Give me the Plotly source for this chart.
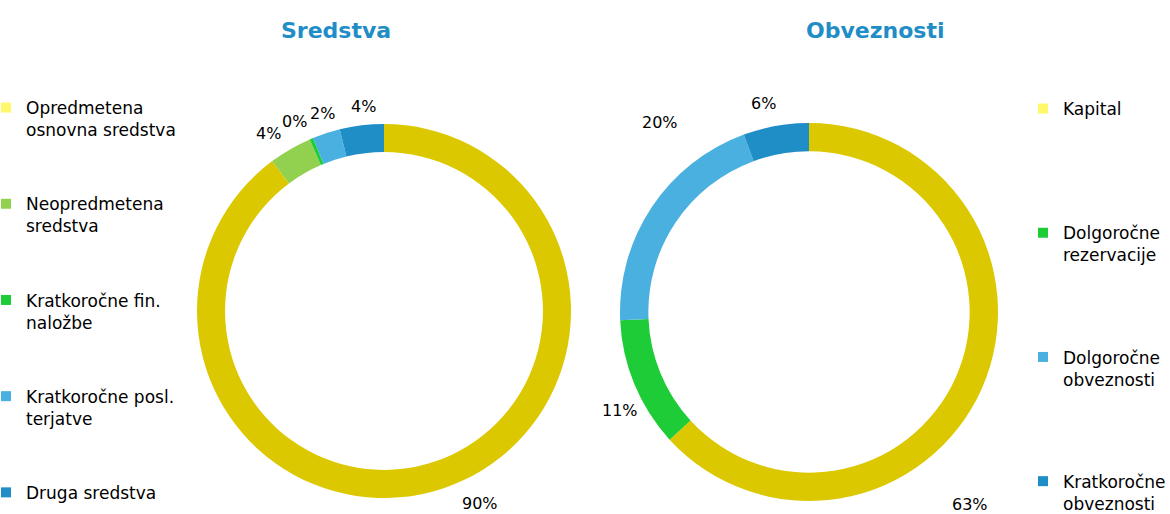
import plotly.graph_objects as go

# ---- data ----
assets_labels = ["Opredmetena<br>osnovna sredstva", "Neopredmetena<br>sredstva",
                 "Kratkoročne fin.<br>naložbe", "Kratkoročne posl.<br>terjatve", "Druga sredstva"]
assets_values = [89.8, 3.7, 0.3, 2.4, 3.8]
assets_colors = ["#DCC800", "#92D050", "#1ECC38", "#4AB0E0", "#1F8DC6"]
assets_legend_colors = ["#FFF86A", "#92D050", "#1ECC38", "#4AB0E0", "#1F8DC6"]

liab_labels = ["Kapital", "Dolgoročne<br>rezervacije", "Dolgoročne<br>obveznosti", "Kratkoročne<br>obveznosti"]
liab_values = [63.2, 11.1, 20.1, 5.6]
liab_colors = ["#DCC800", "#1ECC38", "#4AB0E0", "#1F8DC6"]
liab_legend_colors = ["#FFF86A", "#1ECC38", "#4AB0E0", "#1F8DC6"]

titles = ["Sredstva", "Obveznosti"]

# label placement (pixel positions of the data-label centres, layout only)
assets_label_pos = [(480, 503), (268, 134), (294, 121), (322, 113), (363, 106)]
liab_label_pos = [(970, 504), (620, 410), (660, 122), (763, 104)]

W, H = 1170, 514
FONT = "DejaVu Sans"


def px_domain(cx, cy, r):
    return dict(x=[(cx - r) / W, (cx + r) / W], y=[(H - (cy + r)) / H, (H - (cy - r)) / H])


fig = go.Figure()

fig.add_trace(go.Pie(
    labels=assets_labels, values=assets_values, sort=False, direction="clockwise",
    rotation=0, hole=0.85, marker=dict(colors=assets_colors, line=dict(width=0)),
    textinfo="none", domain=px_domain(384, 311, 187), showlegend=False, name=titles[0],
))
fig.add_trace(go.Pie(
    labels=liab_labels, values=liab_values, sort=False, direction="clockwise",
    rotation=0, hole=0.85, marker=dict(colors=liab_colors, line=dict(width=0)),
    textinfo="none", domain=px_domain(809, 312, 189), showlegend=False, name=titles[1],
))

# legend entries
for lab, col in zip(assets_labels, assets_legend_colors):
    txt = lab if "<br>" in lab else lab + "<br> "
    fig.add_trace(go.Scatter(x=[None], y=[None], mode="markers", name=txt,
                             marker=dict(symbol="square", size=10, color=col),
                             legend="legend", legendgroup="a_" + lab, hoverinfo="skip"))
for lab, col in zip(liab_labels, liab_legend_colors):
    txt = lab if "<br>" in lab else lab + "<br> "
    fig.add_trace(go.Scatter(x=[None], y=[None], mode="markers", name=txt,
                             marker=dict(symbol="square", size=10, color=col),
                             legend="legend2", legendgroup="l_" + lab, hoverinfo="skip"))

legend_common = dict(font=dict(family=FONT, size=17, color="#000000"), valign="top",
                     itemwidth=30, bgcolor="rgba(0,0,0,0)", yanchor="top", xanchor="left",
                     itemclick=False, itemdoubleclick=False, maxheight=600)

annotations = [
    dict(text="<b>" + titles[0] + "</b>", x=336 / W, y=(H - 30) / H, xref="paper", yref="paper",
         showarrow=False, font=dict(family=FONT, size=22, color="#1F8DC6"),
         xanchor="center", yanchor="middle"),
    dict(text="<b>" + titles[1] + "</b>", x=875 / W, y=(H - 30) / H, xref="paper", yref="paper",
         showarrow=False, font=dict(family=FONT, size=22, color="#1F8DC6"),
         xanchor="center", yanchor="middle"),
]


def pct_labels(values, positions):
    tot = sum(values)
    out = []
    for v, (px, py) in zip(values, positions):
        out.append(dict(text=f"{round(100 * v / tot)}%", x=px / W, y=(H - py) / H,
                        xref="paper", yref="paper", showarrow=False,
                        font=dict(family=FONT, size=16, color="#000000"),
                        xanchor="center", yanchor="middle"))
    return out


annotations += pct_labels(assets_values, assets_label_pos)
annotations += pct_labels(liab_values, liab_label_pos)

fig.update_layout(
    width=W, height=H,
    margin=dict(l=0, r=0, t=0, b=0, autoexpand=False),
    paper_bgcolor="white", plot_bgcolor="white",
    xaxis=dict(visible=False), yaxis=dict(visible=False),
    legend=dict(x=-14 / W, y=(H - 90) / H, tracegroupgap=49, **legend_common),
    legend2=dict(x=1023 / W, y=(H - 91) / H, tracegroupgap=77, **legend_common),
    annotations=annotations,
)

fig.write_html("out.html", config={"displayModeBar": False},
               post_script="document.body.style.margin='0';document.body.style.overflow='hidden';")
